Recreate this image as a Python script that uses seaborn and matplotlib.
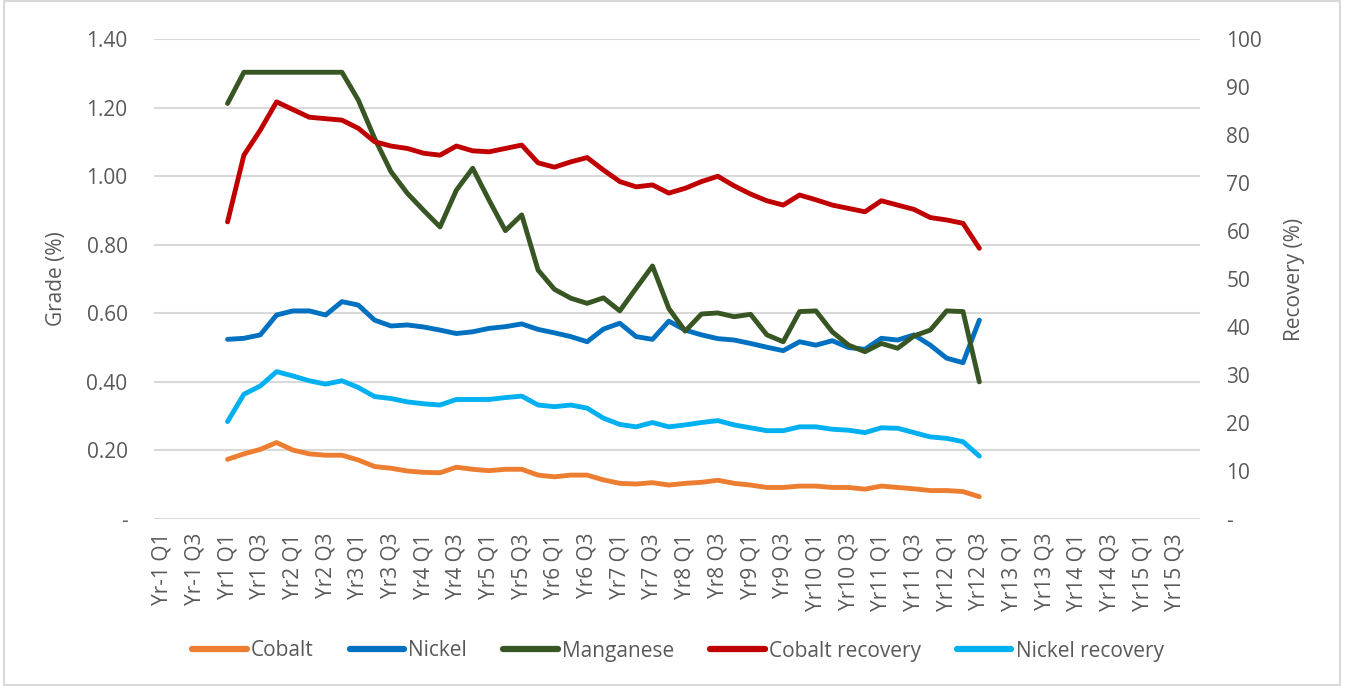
import numpy as np
import pandas as pd
import matplotlib.pyplot as plt
import seaborn as sns
from matplotlib.patches import Rectangle

# ======================================
# Data
# ======================================

years = ["Yr-1"] + [f"Yr{y}" for y in range(1, 16)]
quarters = [f"{y} Q{q}" for y in years for q in range(1, 5)]
first_period = "Yr1 Q1"

cobalt = [0.174, 0.190, 0.203, 0.223, 0.201, 0.190, 0.186, 0.186, 0.172, 0.153,
          0.148, 0.140, 0.136, 0.135, 0.151, 0.145, 0.141, 0.145, 0.145, 0.128,
          0.123, 0.128, 0.128, 0.114, 0.104, 0.102, 0.106, 0.099, 0.104, 0.107,
          0.113, 0.104, 0.099, 0.092, 0.092, 0.096, 0.096, 0.092, 0.092, 0.087,
          0.096, 0.092, 0.088, 0.083, 0.083, 0.080, 0.065]
nickel = [0.524, 0.527, 0.537, 0.595, 0.607, 0.607, 0.595, 0.634, 0.624, 0.580,
          0.563, 0.566, 0.560, 0.551, 0.541, 0.546, 0.556, 0.561, 0.569, 0.553,
          0.543, 0.532, 0.517, 0.554, 0.571, 0.532, 0.524, 0.577, 0.551, 0.537,
          0.526, 0.522, 0.512, 0.501, 0.491, 0.517, 0.507, 0.520, 0.500, 0.495,
          0.527, 0.522, 0.537, 0.507, 0.469, 0.456, 0.580]
manganese = [1.212, 1.303, 1.303, 1.303, 1.303, 1.303, 1.303, 1.303, 1.222, 1.110,
             1.013, 0.950, 0.900, 0.852, 0.959, 1.023, 0.930, 0.841, 0.887, 0.726,
             0.670, 0.644, 0.629, 0.645, 0.607, 0.673, 0.738, 0.614, 0.548, 0.598,
             0.601, 0.590, 0.597, 0.537, 0.517, 0.605, 0.607, 0.546, 0.507, 0.488,
             0.512, 0.498, 0.534, 0.551, 0.607, 0.605, 0.400]
cobalt_rec = [61.9, 75.8, 81.0, 86.9, 85.3, 83.7, 83.4, 83.1, 81.4, 78.6,
              77.7, 77.2, 76.2, 75.8, 77.7, 76.7, 76.5, 77.2, 77.9, 74.2,
              73.3, 74.4, 75.3, 72.7, 70.3, 69.2, 69.6, 67.9, 68.9, 70.3,
              71.4, 69.4, 67.7, 66.3, 65.4, 67.5, 66.5, 65.4, 64.7, 64.0,
              66.3, 65.4, 64.5, 62.8, 62.3, 61.6, 56.4]
nickel_rec = [20.3, 26.0, 27.7, 30.7, 29.8, 28.8, 28.1, 28.8, 27.4, 25.5,
              25.1, 24.4, 24.0, 23.75, 24.9, 24.9, 24.9, 25.3, 25.6, 23.75,
              23.4, 23.75, 23.1, 21.0, 19.7, 19.2, 20.1, 19.2, 19.6, 20.1,
              20.5, 19.6, 19.0, 18.4, 18.4, 19.2, 19.2, 18.7, 18.5, 18.0,
              19.0, 18.9, 18.0, 17.1, 16.8, 16.1, 13.1]

grade_ticks = [0, 0.2, 0.4, 0.6, 0.8, 1.0, 1.2, 1.4]
rec_ticks = [0, 10, 20, 30, 40, 50, 60, 70, 80, 90, 100]

# ======================================
# Tidy frames
# ======================================

start = quarters.index(first_period)
pos = np.arange(start, start + len(cobalt))

grade_df = pd.DataFrame({
    "pos": np.tile(pos, 3),
    "value": cobalt + nickel + manganese,
    "series": ["Cobalt"] * len(cobalt) + ["Nickel"] * len(nickel) + ["Manganese"] * len(manganese),
})
rec_df = pd.DataFrame({
    "pos": np.tile(pos, 2),
    "value": cobalt_rec + nickel_rec,
    "series": ["Cobalt recovery"] * len(cobalt_rec) + ["Nickel recovery"] * len(nickel_rec),
})

colors = {
    "Cobalt": "#ED7D31",
    "Nickel": "#0070C0",
    "Manganese": "#375623",
    "Cobalt recovery": "#C00000",
    "Nickel recovery": "#00B0F0",
}

# ======================================
# Plot
# ======================================

sns.set_theme(style="white")
plt.rcParams["font.family"] = ["Open Sans", "DejaVu Sans"]
text_color = "#595959"
grid_color = "#d9d9d9"
fs = 15

fig = plt.figure(figsize=(13.46, 6.86), dpi=100)
ax = fig.add_axes([154 / 1346, 1 - 519 / 686, (1200 - 154) / 1346, (519 - 39) / 686])
ax2 = ax.twinx()

sns.lineplot(data=grade_df, x="pos", y="value", hue="series", palette=colors,
             linewidth=3.5, ax=ax, legend=False, sort=False)
sns.lineplot(data=rec_df, x="pos", y="value", hue="series", palette=colors,
             linewidth=3.5, ax=ax2, legend=False, sort=False)

ax.set_xlim(-0.5, len(quarters) - 0.5)
ax.set_ylim(0, 1.4)
ax2.set_ylim(0, 100)

ax.set_xticks(range(0, len(quarters), 2))
ax.set_xticklabels(quarters[::2], rotation=90)
ax.set_yticks(grade_ticks)
ax.set_yticklabels(["-" if t == 0 else f"{t:.2f}" for t in grade_ticks])
ax2.set_yticks(rec_ticks)
ax2.set_yticklabels(["-" if t == 0 else str(t) for t in rec_ticks])

for t in grade_ticks:
    ax.axhline(t, color=grid_color, linewidth=1.5, zorder=0)

for a in (ax, ax2):
    for s in a.spines.values():
        s.set_visible(False)
    a.tick_params(length=0, colors=text_color, labelsize=fs)
ax.tick_params(axis="y", pad=19)
ax2.tick_params(axis="y", pad=19)
ax.tick_params(axis="x", pad=10)

ax.set_xlabel("")
ax.set_ylabel("Grade (%)", color=text_color, fontsize=fs, labelpad=14)
ax2.set_ylabel("Recovery (%)", color=text_color, fontsize=fs, labelpad=16)

# legend
order = ["Cobalt", "Nickel", "Manganese", "Cobalt recovery", "Nickel recovery"]
handles = [plt.Line2D([], [], color=colors[k], linewidth=4.5, solid_capstyle="round") for k in order]
fig.legend(handles, order, loc="center", bbox_to_anchor=(678 / 1346, 1 - 651 / 686),
           ncol=5, frameon=False, fontsize=fs, labelcolor=text_color,
           handlelength=2.6, handletextpad=0.2, columnspacing=1.75)

# chart border
fig.patches.append(Rectangle((4 / 1346, 0.002), 1336 / 1346, 0.996, transform=fig.transFigure,
                             fill=False, edgecolor=grid_color, linewidth=1.5))

fig.savefig("out.png", dpi=100)
